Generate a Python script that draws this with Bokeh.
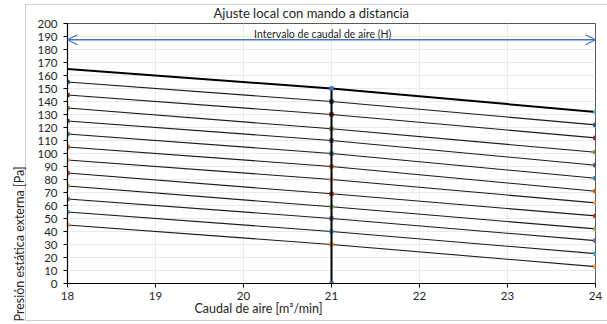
from bokeh.plotting import figure
from bokeh.models import Label, Arrow, OpenHead, FixedTicker, Range1d, Title
from bokeh.embed import file_html
from bokeh.resources import INLINE

# ---- data ----
x_vals = [18, 21, 24]
top_curve = [165, 150, 132]
curves = [
    [155, 140, 122],
    [145, 130, 112],
    [135, 119, 101],
    [125, 110, 91],
    [115, 100, 81],
    [105, 90, 71],
    [95, 80, 62],
    [85, 69, 52],
    [75, 59, 42],
    [65, 50, 33],
    [55, 40, 23],
    [45, 30, 13],
]
curve_colors = ["#2C4D75", "#8B2A2A", "#77933C", "#5F4A7E", "#31859C", "#C0641A",
                "#F9AB6B", "#B03A36", "#9BBB59", "#8064A2", "#4BACC6", "#F79646"]
vline_x = [21, 21]
vline_y = [0, 150]
interval_y = 187.5
interval_x = [18, 24]
x_ticks = [18, 19, 20, 21, 22, 23, 24]
y_ticks = [0, 10, 20, 30, 40, 50, 60, 70, 80, 90, 100, 110, 120, 130, 140, 150,
           160, 170, 180, 190, 200]

title_text = "Ajuste local con mando a distancia"
interval_text = "Intervalo de caudal de aire (H)"
x_title = "Caudal de aire [m³/min]"
y_title = "Presión estática externa [Pa]"

FONT = "Lato"
BLUE = "#4472C4"
TXT = "#262626"
EDGE = "#cfcfcf"

# chart-area border drawn behind a transparent canvas
chart_border = {
    "background-color": "white",
    "background-image": ", ".join([f"linear-gradient({EDGE}, {EDGE})"] * 3),
    "background-size": "1px 317px, 582px 1px, 582px 1px",
    "background-position": "25px 4px, 25px 4px, 25px 320px",
    "background-repeat": "no-repeat",
}

p = figure(width=607, height=324, x_range=Range1d(18, 24), y_range=Range1d(0, 200),
           output_backend="svg", toolbar_location=None, styles=chart_border,
           min_border_left=67, min_border_right=12, min_border_top=21, min_border_bottom=41)
p.background_fill_color = "white"
p.border_fill_color = None
p.outline_line_color = "#595959"
p.outline_line_width = 1

for ax, ticks in ((p.xaxis, x_ticks), (p.yaxis, y_ticks)):
    ax.ticker = FixedTicker(ticks=ticks)
    ax.axis_line_color = "black"
    ax.axis_line_width = 1.2
    ax.major_tick_line_color = "black"
    ax.major_tick_out = 4
    ax.major_tick_in = 0
    ax.minor_tick_line_color = None
    ax.major_label_text_font = FONT
    ax.major_label_text_font_size = "11.5px"
    ax.major_label_text_color = TXT
p.yaxis.major_label_standoff = 6
p.xaxis.major_label_standoff = 4

p.xgrid.ticker = FixedTicker(ticks=x_ticks)
p.ygrid.ticker = FixedTicker(ticks=y_ticks)
p.xgrid.grid_line_color = "#ebebeb"
p.ygrid.grid_line_color = "#ebebeb"

# curves
for ys, c in zip(curves, curve_colors):
    p.line(x_vals, ys, line_color="#1a1a1a", line_width=1.1)
    p.scatter(x_vals, ys, marker="square", size=3.5, color=c)
p.line(x_vals, top_curve, line_color="black", line_width=2)
p.line(vline_x, vline_y, line_color="black", line_width=2)
p.scatter([x_vals[1], x_vals[2]], [top_curve[1], top_curve[2]], marker="square", size=3.5,
          color=[BLUE, "#6FBDD1"])
p.scatter([vline_x[0]], [vline_y[0]], marker="square", size=3.5, color=BLUE)

# interval arrow
p.add_layout(Arrow(start=OpenHead(size=10, line_color=BLUE, line_width=1.2),
                   end=OpenHead(size=10, line_color=BLUE, line_width=1.2),
                   x_start=interval_x[0], y_start=interval_y, x_end=interval_x[1], y_end=interval_y,
                   line_color=BLUE, line_width=1.5))
p.add_layout(Label(x=20.9, y=192.3, text=interval_text, text_align="center",
                   text_baseline="middle", text_font=FONT, text_font_size="10.5px",
                   text_color=TXT))

# titles
p.add_layout(Title(text=title_text, align="left", offset=146, standoff=5,
                   text_font=FONT, text_font_size="13px", text_font_style="normal",
                   text_color=TXT), "above")
p.add_layout(Title(text=y_title, align="left", offset=-38, standoff=15,
                   text_font=FONT, text_font_size="12.5px", text_font_style="normal",
                   text_color=TXT), "left")
p.add_layout(Title(text=x_title, align="left", offset=127, standoff=-8,
                   text_font=FONT, text_font_size="12.5px", text_font_style="normal",
                   text_color=TXT), "below")

open("out.html", "w").write(file_html(p, INLINE))
